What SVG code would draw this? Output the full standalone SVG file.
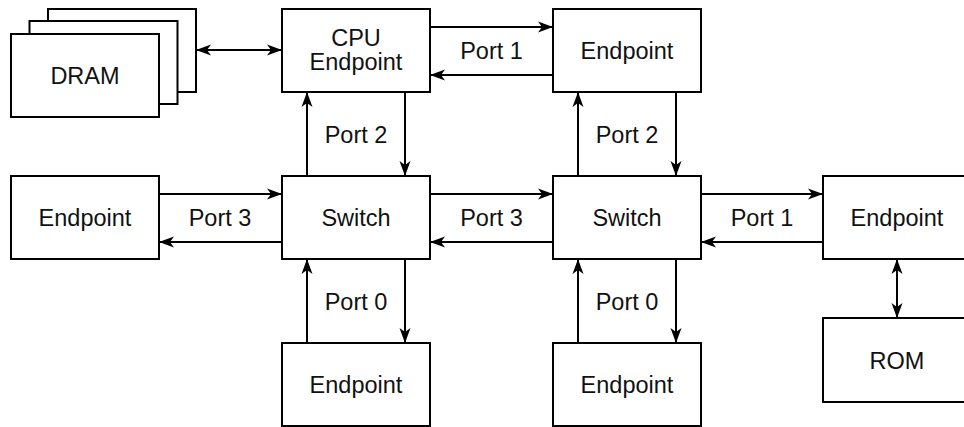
<svg xmlns="http://www.w3.org/2000/svg" width="964" height="427" viewBox="0 0 964 427">
<style>
.box{fill:#fff;stroke:#000;stroke-width:2}
.t{font-family:"Liberation Sans",Arial,sans-serif;font-size:23.5px;fill:#111;text-anchor:middle}
.c{fill:none;stroke:#000;stroke-width:2}
.a{marker-end:url(#ah)}
.b{marker-start:url(#ah);marker-end:url(#ah)}
</style>
<defs>
<marker id="ah" markerUnits="userSpaceOnUse" viewBox="-16 -6 17 12" refX="0" refY="0" markerWidth="17" markerHeight="12" orient="auto-start-reverse">
<path d="M0,0 L-15,-5.5 L-11,0 L-15,5.5 Z" fill="#000"/>
</marker>
</defs>
<rect width="964" height="427" fill="#fff"/>
<g id="connectors">
<line class="c b" x1="196" y1="50" x2="282" y2="50"/>
<line class="c a" x1="430" y1="27" x2="553" y2="27"/>
<line class="c a" x1="553" y1="75" x2="430" y2="75"/>
<line class="c a" x1="307" y1="176" x2="307" y2="92"/>
<line class="c a" x1="405" y1="92" x2="405" y2="176"/>
<line class="c a" x1="578" y1="176" x2="578" y2="92"/>
<line class="c a" x1="676" y1="92" x2="676" y2="176"/>
<line class="c a" x1="159" y1="194" x2="282" y2="194"/>
<line class="c a" x1="282" y1="242" x2="159" y2="242"/>
<line class="c a" x1="430" y1="194" x2="553" y2="194"/>
<line class="c a" x1="553" y1="242" x2="430" y2="242"/>
<line class="c a" x1="701" y1="194" x2="823" y2="194"/>
<line class="c a" x1="823" y1="242" x2="701" y2="242"/>
<line class="c a" x1="307" y1="343" x2="307" y2="259"/>
<line class="c a" x1="405" y1="259" x2="405" y2="343"/>
<line class="c a" x1="578" y1="343" x2="578" y2="259"/>
<line class="c a" x1="676" y1="259" x2="676" y2="343"/>
<line class="c b" x1="897" y1="259" x2="897" y2="318"/>
<text class="t" x="491.5" y="59">Port 1</text>
<text class="t" x="356" y="143">Port 2</text>
<text class="t" x="627" y="143">Port 2</text>
<text class="t" x="220" y="226">Port 3</text>
<text class="t" x="491.5" y="226">Port 3</text>
<text class="t" x="762" y="226">Port 1</text>
<text class="t" x="356" y="310">Port 0</text>
<text class="t" x="627" y="310">Port 0</text>
</g>
<g id="dram">
<rect class="box" x="48" y="9" width="148" height="83"/>
<rect class="box" x="29.5" y="21" width="148" height="83"/>
<rect class="box" x="11" y="34" width="148" height="83"/>
<text class="t" x="85" y="84">DRAM</text>
</g>
<g id="cpu">
<rect class="box" x="282" y="9" width="148" height="83"/>
<text class="t" x="356" y="46">CPU</text>
<text class="t" x="356" y="70">Endpoint</text>
</g>
<g id="ep-top">
<rect class="box" x="553" y="9" width="148" height="83"/>
<text class="t" x="627" y="59">Endpoint</text>
</g>
<g id="ep-left">
<rect class="box" x="11" y="176" width="148" height="83"/>
<text class="t" x="85" y="226">Endpoint</text>
</g>
<g id="switch1">
<rect class="box" x="282" y="176" width="148" height="83"/>
<text class="t" x="356" y="226">Switch</text>
</g>
<g id="switch2">
<rect class="box" x="553" y="176" width="148" height="83"/>
<text class="t" x="627" y="226">Switch</text>
</g>
<g id="ep-right">
<rect class="box" x="823" y="176" width="148" height="83"/>
<text class="t" x="897" y="226">Endpoint</text>
</g>
<g id="ep-bottom1">
<rect class="box" x="282" y="343" width="148" height="83"/>
<text class="t" x="356" y="393">Endpoint</text>
</g>
<g id="ep-bottom2">
<rect class="box" x="553" y="343" width="148" height="83"/>
<text class="t" x="627" y="393">Endpoint</text>
</g>
<g id="rom">
<rect class="box" x="823" y="318" width="148" height="84"/>
<text class="t" x="897" y="368.5">ROM</text>
</g>
</svg>
